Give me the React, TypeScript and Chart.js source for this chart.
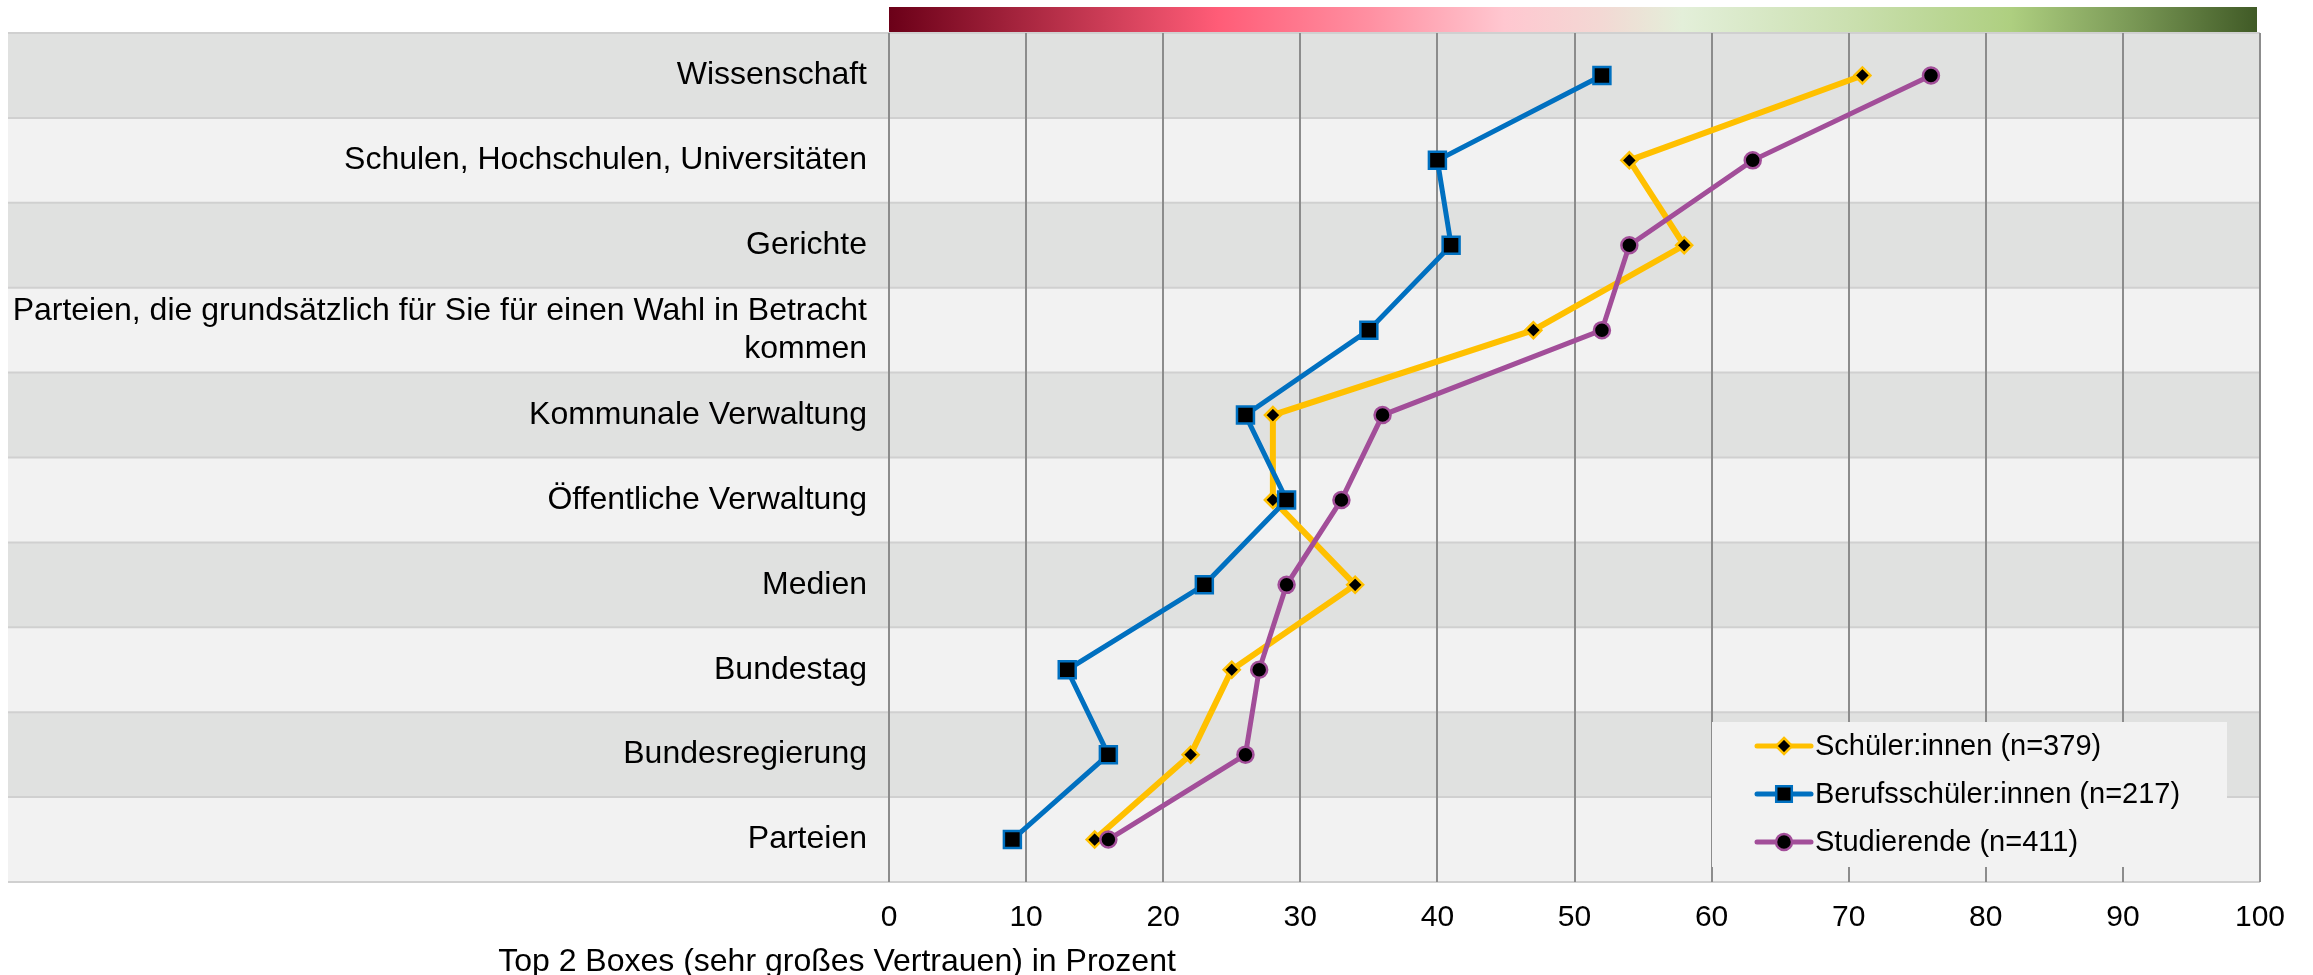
import React, { useEffect, useRef } from "react";
import { Chart, registerables } from "chart.js";

Chart.register(...registerables);

const categories: (string | string[])[] = [
  "Wissenschaft",
  "Schulen, Hochschulen, Universitäten",
  "Gerichte",
  ["Parteien, die grundsätzlich für Sie für einen Wahl in Betracht", "kommen"],
  "Kommunale Verwaltung",
  "Öffentliche Verwaltung",
  "Medien",
  "Bundestag",
  "Bundesregierung",
  "Parteien",
];

const schueler = [71, 54, 58, 47, 28, 28, 34, 25, 22, 15];
const berufsschueler = [52, 40, 41, 35, 26, 29, 23, 13, 16, 9];
const studierende = [76, 63, 54, 52, 36, 33, 29, 27, 26, 16];

const seriesNames = [
  "Schüler:innen (n=379)",
  "Berufsschüler:innen (n=217)",
  "Studierende (n=411)",
];
const seriesColors = ["#FFC000", "#0070C0", "#A24E99"];
const seriesMarkers = ["rectRot", "rect", "circle"];

const axisTitle = "Top 2 Boxes (sehr großes Vertrauen) in Prozent";

const FONT = "'Liberation Sans', Arial, Helvetica, sans-serif";

const gradientStops: [number, string][] = [
  [0, "#6b0018"],
  [0.24, "#ff5c77"],
  [0.35, "#ff8fa1"],
  [0.45, "#ffc7d0"],
  [0.52, "#f3d8d4"],
  [0.58, "#e3efd9"],
  [0.7, "#cbe0b0"],
  [0.82, "#aecf80"],
  [0.9, "#7f9e5a"],
  [1, "#405a26"],
];

const backgroundPlugin = {
  id: "bandsAndGradient",
  beforeDraw(chart: any) {
    const { ctx, chartArea } = chart;
    const n = categories.length;
    const bandLeft = 8;
    const bandH = (chartArea.bottom - chartArea.top) / n;
    ctx.save();
    for (let i = 0; i < n; i++) {
      const y0 = chartArea.top + i * bandH;
      ctx.fillStyle = i % 2 === 0 ? "#e0e1e0" : "#f2f2f2";
      ctx.fillRect(bandLeft, y0, chartArea.right - bandLeft, bandH);
    }
    ctx.strokeStyle = "#d0d0d0";
    ctx.lineWidth = 2;
    for (let i = 0; i <= n; i++) {
      const yy = chartArea.top + i * bandH;
      ctx.beginPath();
      ctx.moveTo(bandLeft, yy);
      ctx.lineTo(chartArea.right, yy);
      ctx.stroke();
    }
    // gradient bar above the plot
    const gx0 = chartArea.left;
    const gx1 = chartArea.right - 3;
    const grad = ctx.createLinearGradient(gx0, 0, gx1, 0);
    gradientStops.forEach(([p, c]) => grad.addColorStop(p, c));
    ctx.fillStyle = grad;
    ctx.fillRect(gx0, chartArea.top - 26, gx1 - gx0, 25);
    ctx.restore();
  },
};

function drawMarker(ctx: CanvasRenderingContext2D, style: string, x: number, y: number, r: number, border: string) {
  ctx.beginPath();
  if (style === "rectRot") {
    ctx.moveTo(x, y - r);
    ctx.lineTo(x + r, y);
    ctx.lineTo(x, y + r);
    ctx.lineTo(x - r, y);
    ctx.closePath();
  } else if (style === "rect") {
    const s = r * Math.SQRT1_2;
    ctx.rect(x - s, y - s, 2 * s, 2 * s);
  } else {
    ctx.arc(x, y, r, 0, Math.PI * 2);
  }
  ctx.fillStyle = "#000000";
  ctx.fill();
  ctx.strokeStyle = border;
  ctx.lineWidth = 2.5;
  ctx.stroke();
}

const legendPlugin = {
  id: "customLegend",
  afterDraw(chart: any) {
    const { ctx } = chart;
    ctx.save();
    ctx.fillStyle = "#f2f2f2";
    ctx.fillRect(1712, 722, 515, 145);
    const radii = [8, 11, 8];
    seriesNames.forEach((name, i) => {
      const y = 746 + i * 48;
      ctx.strokeStyle = seriesColors[i];
      ctx.lineWidth = 5;
      ctx.lineCap = "round";
      ctx.beginPath();
      ctx.moveTo(1757, y);
      ctx.lineTo(1811, y);
      ctx.stroke();
      drawMarker(ctx, seriesMarkers[i], 1784, y, radii[i], seriesColors[i]);
      ctx.fillStyle = "#000000";
      ctx.font = `29px ${FONT}`;
      ctx.textAlign = "left";
      ctx.textBaseline = "middle";
      ctx.fillText(name, 1815, y + 1);
    });
    // axis title
    ctx.fillStyle = "#000000";
    ctx.font = `32px ${FONT}`;
    ctx.textAlign = "center";
    ctx.textBaseline = "middle";
    ctx.fillText(axisTitle, 837, 962);
    ctx.restore();
  },
};

export default function App() {
  const canvasRef = useRef<HTMLCanvasElement | null>(null);

  useEffect(() => {
    if (!canvasRef.current) return;
    const seriesData = [schueler, berufsschueler, studierende];
    const radii = [8, 12, 8];
    const widths = [6, 5, 5];
    const chart = new Chart(canvasRef.current, {
      type: "line",
      data: {
        labels: categories as any,
        datasets: seriesData.map((d, i) => ({
          label: seriesNames[i],
          data: d,
          borderColor: seriesColors[i],
          backgroundColor: "#000000",
          pointBackgroundColor: "#000000",
          pointBorderColor: seriesColors[i],
          pointBorderWidth: 2.5,
          pointStyle: seriesMarkers[i] as any,
          pointRadius: radii[i],
          borderWidth: widths[i],
          tension: 0,
          fill: false,
          order: 3 - i,
        })),
      },
      plugins: [backgroundPlugin, legendPlugin],
      options: {
        indexAxis: "y",
        responsive: false,
        animation: false,
        devicePixelRatio: 1,
        layout: { padding: { left: 0, right: 53, top: 33, bottom: 0 } },
        plugins: {
          legend: { display: false },
          tooltip: { enabled: false },
          title: { display: false },
        },
        scales: {
          x: {
            type: "linear",
            min: 0,
            max: 100,
            ticks: {
              stepSize: 10,
              color: "#000000",
              font: { family: FONT, size: 30 },
              padding: 18,
            },
            grid: { color: "#8c8c8c", lineWidth: 2, drawTicks: false },
            border: { display: false },
            afterFit: (scale: any) => {
              scale.height = 93;
            },
          },
          y: {
            type: "category",
            offset: true,
            ticks: {
              color: "#000000",
              font: { family: FONT, size: 32, lineHeight: 1.2 },
              padding: 22,
              autoSkip: false,
            },
            grid: { display: false, drawTicks: false },
            border: { display: false },
            afterFit: (scale: any) => {
              scale.width = 889;
              scale.paddingTop = 0;
              scale.paddingBottom = 0;
            },
          },
        },
      } as any,
    });
    return () => chart.destroy();
  }, []);

  return (
    <div style={{ position: "fixed", left: 0, top: 0, width: 2313, height: 975, background: "#ffffff" }}>
      <canvas ref={canvasRef} width={2313} height={975} style={{ display: "block" }} />
    </div>
  );
}
